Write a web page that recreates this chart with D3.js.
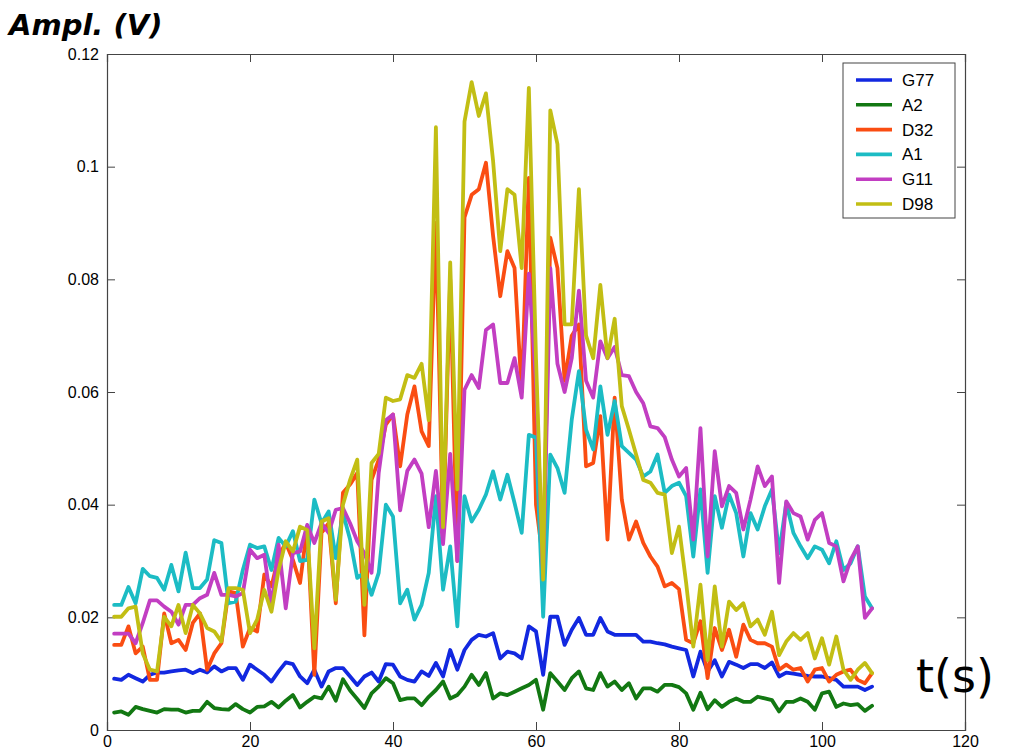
<!DOCTYPE html>
<html>
<head>
<meta charset="utf-8">
<script src="https://cdn.jsdelivr.net/npm/d3@7"></script>
<style>
  body { margin: 0; background: #fff; }
  .tick text { font-family: "Liberation Sans", Arial, sans-serif; font-size: 16px; fill: #000; }
  .series { fill: none; stroke-width: 3.8; stroke-linejoin: round; stroke-linecap: round; }
</style>
</head>
<body>
<svg id="chart" width="1011" height="756"></svg>
<script>
// time samples (s)
var tValues = d3.range(1, 108);

var xTicks = [0, 20, 40, 60, 80, 100, 120];
var yTicks = [0, 0.02, 0.04, 0.06, 0.08, 0.1, 0.12];
var yTickLabels = ["0", "0.02", "0.04", "0.06", "0.08", "0.1", "0.12"];

var seriesNames = ["G77", "A2", "D32", "A1", "G11", "D98"];
var seriesColors = ["#1228e0", "#127812", "#fa4d12", "#1cbcc4", "#c23ec2", "#c2be14"];

var g77 = [
  0.0091, 0.0089, 0.0098, 0.0092, 0.0086, 0.0098, 0.0102, 0.0102, 0.0104, 0.0106,
  0.0107, 0.0101, 0.0107, 0.0102, 0.0113, 0.0104, 0.0110, 0.0110, 0.0089, 0.0116,
  0.0107, 0.0098, 0.0086, 0.0104, 0.0120, 0.0117, 0.0095, 0.0083, 0.0107, 0.0077,
  0.0104, 0.0110, 0.0110, 0.0095, 0.0080, 0.0095, 0.0102, 0.0086, 0.0117, 0.0116,
  0.0095, 0.0089, 0.0086, 0.0104, 0.0096, 0.0119, 0.0095, 0.0142, 0.0107, 0.0142,
  0.0160, 0.0169, 0.0166, 0.0172, 0.0127, 0.0139, 0.0136, 0.0127, 0.0184, 0.0175,
  0.0098, 0.0201, 0.0201, 0.0151, 0.0178, 0.0199, 0.0169, 0.0169, 0.0199, 0.0175,
  0.0169, 0.0169, 0.0169, 0.0169, 0.0157, 0.0157, 0.0154, 0.0152, 0.0148, 0.0145,
  0.0142, 0.0095, 0.0139, 0.0104, 0.0124, 0.0095, 0.0121, 0.0116, 0.0110, 0.0117,
  0.0117, 0.0110, 0.0120, 0.0095, 0.0102, 0.0100, 0.0098, 0.0096, 0.0095, 0.0095,
  0.0092, 0.0089, 0.0077, 0.0077, 0.0077, 0.0071, 0.0077
];

var a2 = [
  0.0031, 0.0033, 0.0027, 0.0041, 0.0037, 0.0034, 0.0031, 0.0037, 0.0036, 0.0036,
  0.0031, 0.0034, 0.0034, 0.0050, 0.0039, 0.0037, 0.0036, 0.0046, 0.0037, 0.0031,
  0.0041, 0.0042, 0.0050, 0.0040, 0.0052, 0.0062, 0.0040, 0.0050, 0.0059, 0.0056,
  0.0077, 0.0052, 0.0090, 0.0070, 0.0055, 0.0039, 0.0065, 0.0077, 0.0092, 0.0083,
  0.0053, 0.0056, 0.0056, 0.0044, 0.0059, 0.0071, 0.0086, 0.0056, 0.0062, 0.0077,
  0.0098, 0.0080, 0.0101, 0.0056, 0.0065, 0.0062, 0.0068, 0.0074, 0.0080, 0.0089,
  0.0036, 0.0101, 0.0086, 0.0071, 0.0092, 0.0104, 0.0074, 0.0071, 0.0101, 0.0077,
  0.0086, 0.0071, 0.0083, 0.0056, 0.0074, 0.0074, 0.0068, 0.0080, 0.0080, 0.0076,
  0.0065, 0.0036, 0.0066, 0.0037, 0.0053, 0.0041, 0.0050, 0.0056, 0.0050, 0.0050,
  0.0059, 0.0056, 0.0053, 0.0033, 0.0050, 0.0050, 0.0056, 0.0050, 0.0036, 0.0065,
  0.0068, 0.0041, 0.0047, 0.0044, 0.0046, 0.0034, 0.0043
];

var d32 = [
  0.0151, 0.0151, 0.0184, 0.0136, 0.0148, 0.0089, 0.0089, 0.0207, 0.0154, 0.0160,
  0.0142, 0.0190, 0.0207, 0.0107, 0.0136, 0.0154, 0.0246, 0.0243, 0.0148, 0.0181,
  0.0175, 0.0276, 0.0255, 0.0308, 0.0332, 0.0302, 0.0261, 0.0360, 0.0098, 0.0350,
  0.0367, 0.0225, 0.0421, 0.0436, 0.0456, 0.0168, 0.0444, 0.0480, 0.0542, 0.0560,
  0.0468, 0.0560, 0.0610, 0.0530, 0.0504, 0.0900, 0.0344, 0.0800, 0.0300, 0.0910,
  0.0950, 0.0960, 0.1007, 0.0877, 0.0770, 0.0850, 0.0820, 0.0600, 0.0980, 0.0400,
  0.0300, 0.0874, 0.0820, 0.0620, 0.0700, 0.0720, 0.0468, 0.0474, 0.0557, 0.0338,
  0.0590, 0.0409, 0.0338, 0.0370, 0.0332, 0.0308, 0.0290, 0.0255, 0.0261, 0.0250,
  0.0160, 0.0154, 0.0193, 0.0092, 0.0181, 0.0142, 0.0178, 0.0130, 0.0187, 0.0160,
  0.0154, 0.0154, 0.0148, 0.0107, 0.0116, 0.0107, 0.0110, 0.0086, 0.0107, 0.0110,
  0.0086, 0.0098, 0.0104, 0.0107, 0.0089, 0.0083, 0.0101
];

var a1 = [
  0.0222, 0.0222, 0.0254, 0.0225, 0.0286, 0.0273, 0.0270, 0.0249, 0.0293, 0.0246,
  0.0315, 0.0252, 0.0252, 0.0267, 0.0337, 0.0332, 0.0225, 0.0228, 0.0284, 0.0329,
  0.0323, 0.0326, 0.0284, 0.0341, 0.0326, 0.0353, 0.0300, 0.0302, 0.0409, 0.0367,
  0.0388, 0.0305, 0.0385, 0.0338, 0.0270, 0.0279, 0.0240, 0.0279, 0.0400, 0.0379,
  0.0225, 0.0249, 0.0196, 0.0222, 0.0279, 0.0415, 0.0249, 0.0326, 0.0184, 0.0415,
  0.0370, 0.0391, 0.0418, 0.0459, 0.0409, 0.0453, 0.0403, 0.0350, 0.0524, 0.0519,
  0.0201, 0.0489, 0.0465, 0.0421, 0.0551, 0.0637, 0.0533, 0.0498, 0.0610, 0.0524,
  0.0584, 0.0504, 0.0492, 0.0480, 0.0450, 0.0459, 0.0489, 0.0421, 0.0433, 0.0439,
  0.0415, 0.0308, 0.0427, 0.0279, 0.0415, 0.0359, 0.0418, 0.0385, 0.0308, 0.0385,
  0.0356, 0.0397, 0.0427, 0.0314, 0.0403, 0.0350, 0.0326, 0.0305, 0.0326, 0.0320,
  0.0296, 0.0335, 0.0284, 0.0296, 0.0326, 0.0237, 0.0216
];

var g11 = [
  0.0171, 0.0171, 0.0171, 0.0154, 0.0190, 0.0230, 0.0230, 0.0219, 0.0210, 0.0187,
  0.0222, 0.0222, 0.0234, 0.0240, 0.0279, 0.0240, 0.0240, 0.0237, 0.0243, 0.0320,
  0.0305, 0.0311, 0.0219, 0.0329, 0.0216, 0.0314, 0.0317, 0.0364, 0.0332, 0.0367,
  0.0350, 0.0391, 0.0394, 0.0367, 0.0335, 0.0314, 0.0279, 0.0456, 0.0550, 0.0560,
  0.0390, 0.0460, 0.0480, 0.0455, 0.0360, 0.0460, 0.0330, 0.0490, 0.0300, 0.0604,
  0.0630, 0.0607, 0.0710, 0.0720, 0.0616, 0.0616, 0.0660, 0.0590, 0.0810, 0.0620,
  0.0270, 0.0820, 0.0650, 0.0600, 0.0660, 0.0780, 0.0620, 0.0590, 0.0690, 0.0660,
  0.0680, 0.0630, 0.0628, 0.0600, 0.0580, 0.0539, 0.0536, 0.0520, 0.0480, 0.0450,
  0.0465, 0.0338, 0.0536, 0.0308, 0.0495, 0.0397, 0.0433, 0.0421, 0.0356, 0.0409,
  0.0468, 0.0433, 0.0450, 0.0261, 0.0406, 0.0385, 0.0379, 0.0338, 0.0373, 0.0385,
  0.0332, 0.0326, 0.0264, 0.0302, 0.0326, 0.0199, 0.0216
];

var d98 = [
  0.0201, 0.0201, 0.0216, 0.0219, 0.0136, 0.0107, 0.0104, 0.0201, 0.0184, 0.0222,
  0.0172, 0.0222, 0.0207, 0.0181, 0.0175, 0.0157, 0.0252, 0.0252, 0.0249, 0.0172,
  0.0196, 0.0249, 0.0210, 0.0284, 0.0335, 0.0317, 0.0361, 0.0355, 0.0145, 0.0370,
  0.0376, 0.0231, 0.0400, 0.0444, 0.0480, 0.0222, 0.0474, 0.0490, 0.0590, 0.0584,
  0.0587, 0.0630, 0.0625, 0.0650, 0.0550, 0.1070, 0.0360, 0.0830, 0.0427, 0.1080,
  0.1150, 0.1090, 0.1130, 0.1010, 0.0850, 0.0960, 0.0950, 0.0820, 0.1140, 0.0660,
  0.0267, 0.1100, 0.1040, 0.0720, 0.0720, 0.0960, 0.0700, 0.0660, 0.0790, 0.0660,
  0.0730, 0.0575, 0.0533, 0.0489, 0.0444, 0.0439, 0.0421, 0.0418, 0.0314, 0.0361,
  0.0261, 0.0148, 0.0258, 0.0124, 0.0255, 0.0148, 0.0228, 0.0213, 0.0225, 0.0184,
  0.0196, 0.0169, 0.0210, 0.0133, 0.0157, 0.0172, 0.0160, 0.0172, 0.0127, 0.0163,
  0.0116, 0.0166, 0.0107, 0.0089, 0.0107, 0.0119, 0.0101
];

var seriesValues = [g77, a2, d32, a1, g11, d98];

// plot box
var margin = { top: 54, right: 46, bottom: 26, left: 107 };
var width = 1011 - margin.left - margin.right,
    height = 756 - margin.top - margin.bottom;

var svg = d3.select("#chart");
var plot = svg.append("g")
    .attr("transform", "translate(" + margin.left + "," + margin.top + ")");

var x = d3.scaleLinear().domain([0, 120]).range([0, width]);
var y = d3.scaleLinear().domain([0, 0.12]).range([height, 0]);

// axes with inward ticks, matlab style box
var tickLen = 8;
plot.append("g")
    .attr("class", "axis")
    .attr("transform", "translate(0," + height + ")")
    .call(d3.axisBottom(x).tickValues(xTicks).tickSize(-tickLen).tickPadding(6)
        .tickFormat(d3.format("d")));
plot.append("g")
    .attr("class", "axis")
    .call(d3.axisLeft(y).tickValues(yTicks).tickSize(-tickLen).tickPadding(8)
        .tickFormat(function(d, i) { return yTickLabels[i]; }));
plot.append("g")
    .attr("class", "axis")
    .call(d3.axisTop(x).tickValues(xTicks).tickSize(-tickLen).tickFormat(""));
plot.append("g")
    .attr("class", "axis")
    .attr("transform", "translate(" + width + ",0)")
    .call(d3.axisRight(y).tickValues(yTicks).tickSize(-tickLen).tickFormat(""));

plot.selectAll(".axis path, .axis line").attr("stroke", "#444");
plot.selectAll(".axis .domain").attr("stroke-width", 1.2);

// lines, drawn in legend order so D98 ends on top
var line = d3.line()
    .x(function(d, i) { return x(tValues[i]); })
    .y(function(d) { return y(d); });

plot.selectAll("path.series")
    .data(seriesValues)
    .enter().append("path")
    .attr("class", "series")
    .attr("stroke", function(d, i) { return seriesColors[i]; })
    .attr("d", line);

// legend box
var legend = svg.append("g").attr("transform", "translate(843,63)");
legend.append("rect")
    .attr("width", 112).attr("height", 155)
    .attr("fill", "#fff").attr("stroke", "#444").attr("stroke-width", 1);

var item = legend.selectAll("g.item")
    .data(seriesNames)
    .enter().append("g")
    .attr("class", "item")
    .attr("transform", function(d, i) { return "translate(0," + (17 + i * 24.8) + ")"; });
item.append("line")
    .attr("x1", 13).attr("x2", 49)
    .attr("stroke-width", 3.6)
    .attr("stroke", function(d, i) { return seriesColors[i]; });
item.append("text")
    .attr("x", 59).attr("dy", "0.35em")
    .style("font-family", "Liberation Sans, Arial, sans-serif")
    .style("font-size", "17px")
    .text(function(d) { return d; });

// axis titles
svg.append("text")
    .attr("x", 9).attr("y", 35)
    .style("font-family", "'Comic Sans MS', 'DejaVu Sans', sans-serif")
    .style("font-weight", "bold").style("font-style", "italic")
    .style("font-size", "29px")
    .text("Ampl. (V)");

svg.append("text")
    .attr("x", 916).attr("y", 692)
    .style("font-family", "'Comic Sans MS', 'DejaVu Sans', sans-serif")
    .style("font-size", "46px")
    .text("t(s)");
</script>
</body>
</html>
